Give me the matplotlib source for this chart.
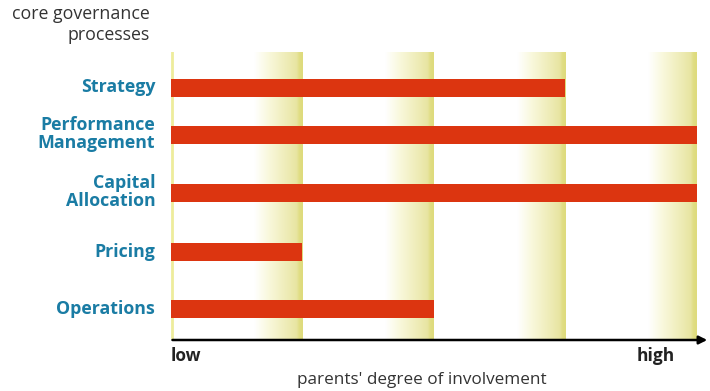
import matplotlib
matplotlib.use('Agg')
import matplotlib.pyplot as plt
import numpy as np
from matplotlib.colors import LinearSegmentedColormap

# data
processes = ['Strategy', 'Performance\nManagement', 'Capital\nAllocation', 'Pricing', 'Operations']
involvement = [3, 4, 4, 1, 2]          # number of yellow bands reached
levels = [1, 2, 3, 4]                  # band positions
x_labels = ['low', 'high']

# layout (pixel rows, top to bottom)
row_pos = [87.5, 134.5, 192.5, 252, 308.5]

W, H = 710, 391
fig = plt.figure(figsize=(W / 100, H / 100), dpi=100)
plt.rcParams['font.family'] = ['Open Sans', 'DejaVu Sans']

ax = fig.add_axes([171 / W, (H - 340) / H, (710 - 171) / W, (340 - 52) / H])
ax.set_xlim(0, 4.1)
ax.set_ylim(340, 52)
ax.axis('off')

# gradient bands, white on the left to yellow on the right
band_w = 0.37
cmap = LinearSegmentedColormap.from_list(
    'band', [(0, '#ffffff'), (0.3, '#f9f8dc'), (0.88, '#e8e5a2'), (0.93, '#e0dd84'), (1, '#dedb7c')])
grad = np.linspace(0, 1, 64).reshape(1, -1)
for lv in levels:
    ax.imshow(grad, cmap=cmap, aspect='auto', extent=(lv - band_w, lv, 340, 52),
              interpolation='bilinear', zorder=1)
ax.plot([0.005, 0.005], [340, 52], color='#eeec9c', lw=2, zorder=2)

# bars
ax.barh(row_pos, involvement, height=18, left=0, color='#dc3510', zorder=3)

# x axis with arrow
ax.annotate('', xy=(4.1, 340), xytext=(-0.01, 340), xycoords='data',
            arrowprops=dict(arrowstyle='-|>', color='black', lw=1.8, mutation_scale=12),
            annotation_clip=False, zorder=4)

# category labels
for name, y in zip(processes, row_pos):
    ax.text(-0.12, y, name, ha='right', va='center', fontsize=12.8, fontweight='bold',
            color='#1a7ca4', linespacing=1.0)

ax.text(0.0, 356, x_labels[0], ha='left', va='center', fontsize=12.5, fontweight='bold', color='#222222')
ax.text(3.69, 356, x_labels[1], ha='center', va='center', fontsize=12.5, fontweight='bold', color='#222222')

fig.text(150 / W, 1 - 5 / H, 'core governance\nprocesses', ha='right', va='top', fontsize=12.8,
         color='#333333', linespacing=1.2)
fig.text(422 / W, 1 - 380 / H, "parents' degree of involvement", ha='center', va='center',
         fontsize=12.3, color='#333333')

fig.savefig('out.png', dpi=100)
